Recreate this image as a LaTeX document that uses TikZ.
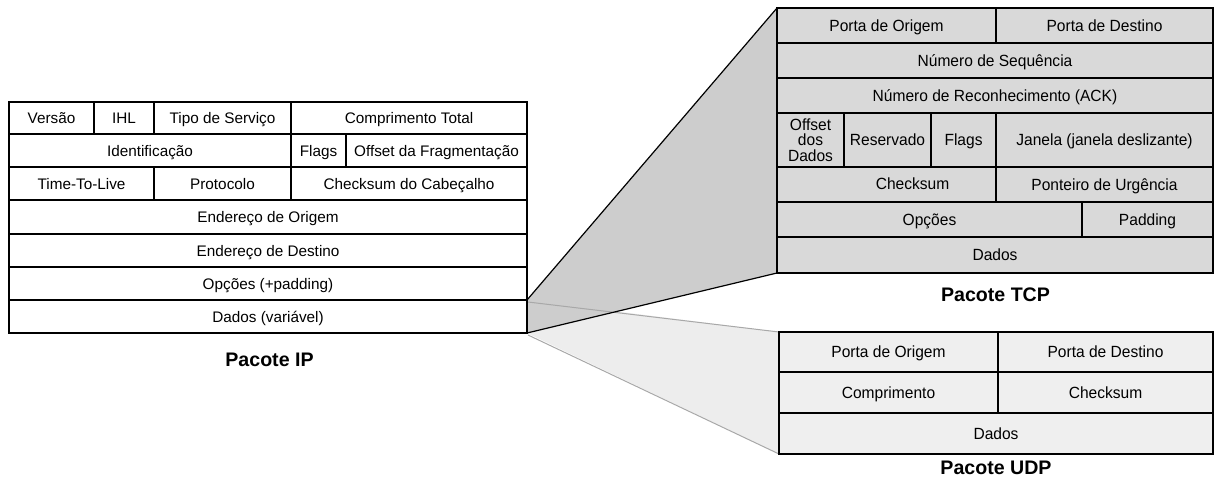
\documentclass[tikz,border=0pt]{standalone}
\usepackage{fontspec}
\setmainfont{Liberation Sans}
\newfontfamily\hdrfont[FakeStretch=0.96]{Liberation Sans}
\usetikzlibrary{backgrounds,calc}

\definecolor{tcpcell}{HTML}{D9D9D9}
\definecolor{udpcell}{HTML}{EFEFEF}
\definecolor{tcpwedge}{HTML}{CDCDCD}
\definecolor{udpwedge}{HTML}{EDEDED}
\definecolor{udpedge}{HTML}{A8A8A8}

\tikzset{
  cellbase/.style={draw=black, line width=2.7pt, inner sep=0pt, outer sep=0pt,
    anchor=north west, align=center},
  ipcell/.style={cellbase, fill=white,
    font=\fontsize{15.3}{18}\selectfont, text height=11pt, text depth=0pt},
  tcpbox/.style={cellbase, fill=tcpcell,
    font=\hdrfont\fontsize{16.2}{15.5}\selectfont, text height=11.6pt, text depth=0pt},
  udpbox/.style={cellbase, fill=udpcell,
    font=\hdrfont\fontsize{16.2}{15.5}\selectfont, text height=11.6pt, text depth=0pt},
  caption/.style={font=\bfseries\fontsize{19.6}{22}\selectfont, inner sep=0pt},
  tcpline/.style={draw=black, line width=1.2pt},
  udpline/.style={draw=udpedge, line width=1pt},
}

\begin{document}
\begin{tikzpicture}[x=1pt, y=-1pt]
\useasboundingbox (0,0) rectangle (1214,477);

% ---- IP header ----
\node[ipcell, minimum width=85pt,  minimum height=32pt] (ipVer)   at (9,102)   {Versão};
\node[ipcell, minimum width=60pt,  minimum height=32pt] (ipIHL)   at (94,102)  {IHL};
\node[ipcell, minimum width=137pt, minimum height=32pt] (ipTos)   at (154,102) {Tipo de Serviço};
\node[ipcell, minimum width=236pt, minimum height=32pt] (ipLen)   at (291,102) {Comprimento Total};

\node[ipcell, minimum width=282pt, minimum height=33pt] (ipId)    at (9,134)   {Identificação};
\node[ipcell, minimum width=55pt,  minimum height=33pt] (ipFlags) at (291,134) {Flags};
\node[ipcell, minimum width=181pt, minimum height=33pt] (ipFrag)  at (346,134) {Offset da Fragmentação};

\node[ipcell, minimum width=145pt, minimum height=33pt] (ipTTL)   at (9,167)   {Time-To-Live};
\node[ipcell, minimum width=137pt, minimum height=33pt] (ipProto) at (154,167) {Protocolo};
\node[ipcell, minimum width=236pt, minimum height=33pt] (ipCsum)  at (291,167) {Checksum do Cabeçalho};

\node[ipcell, minimum width=518pt, minimum height=34pt] (ipSrc)   at (9,200)   {Endereço de Origem};
\node[ipcell, minimum width=518pt, minimum height=33pt] (ipDst)   at (9,234)   {Endereço de Destino};
\node[ipcell, minimum width=518pt, minimum height=33pt] (ipOpt)   at (9,267)   {Opções (+padding)};
\node[ipcell, minimum width=518pt, minimum height=33pt] (ipData)  at (9,300)   {Dados (variável)};

\node[caption] (ipTitle) at (269.5,360) {Pacote IP};

% ---- TCP header ----
\node[tcpbox, minimum width=219pt, minimum height=35pt] (tcpSrc)  at (777,8)   {Porta de Origem};
\node[tcpbox, minimum width=217pt, minimum height=35pt] (tcpDst)  at (996,8)   {Porta de Destino};
\node[tcpbox, minimum width=436pt, minimum height=35pt] (tcpSeq)  at (777,43)  {Número de Sequência};
\node[tcpbox, minimum width=436pt, minimum height=35pt] (tcpAck)  at (777,78)  {Número de Reconhecimento (ACK)};

\node[tcpbox, minimum width=67pt,  minimum height=54pt, text height=, text depth=] (tcpOff) at (777,113)
  {Offset\\dos\\Dados};
\node[tcpbox, minimum width=87pt,  minimum height=54pt] (tcpRes)  at (844,113)  {Reservado};
\node[tcpbox, minimum width=65pt,  minimum height=54pt] (tcpFlg)  at (931,113)  {Flags};
\node[tcpbox, minimum width=217pt, minimum height=54pt] (tcpWin)  at (996,113)  {Janela (janela deslizante)};

\node[tcpbox, minimum width=219pt, minimum height=35pt,
      label={[font=\hdrfont\fontsize{16.2}{15.5}\selectfont, xshift=26pt, yshift=0.8pt]center:Checksum}]
      (tcpCsum) at (777,167) {};
\node[tcpbox, minimum width=217pt, minimum height=35pt] (tcpUrg)  at (996,167) {Ponteiro de Urgência};
\node[tcpbox, minimum width=305pt, minimum height=35pt] (tcpOpt)  at (777,202) {Opções};
\node[tcpbox, minimum width=131pt, minimum height=35pt] (tcpPad)  at (1082,202) {Padding};
\node[tcpbox, minimum width=436pt, minimum height=36pt] (tcpData) at (777,237) {Dados};

\node[caption] (tcpTitle) at (995.5,295) {Pacote TCP};

% ---- UDP header ----
\node[udpbox, minimum width=219pt, minimum height=40pt] (udpSrc)  at (779,332) {Porta de Origem};
\node[udpbox, minimum width=215pt, minimum height=40pt] (udpDst)  at (998,332) {Porta de Destino};
\node[udpbox, minimum width=219pt, minimum height=41pt] (udpLen)  at (779,372) {Comprimento};
\node[udpbox, minimum width=215pt, minimum height=41pt] (udpCsum) at (998,372) {Checksum};
\node[udpbox, minimum width=434pt, minimum height=41pt] (udpData) at (779,413) {Dados};

\node[caption] (udpTitle) at (996,468) {Pacote UDP};

% ---- zoom wedges from the IP data field to the transport headers ----
\begin{pgfonlayer}{background}
  \fill[udpwedge] (ipData.north east) -- (udpSrc.north west) -- (udpData.south west)
                  -- (ipData.south east) -- cycle;
  \fill[tcpwedge] (ipData.north east) -- (tcpSrc.north west) -- (tcpData.south west)
                  -- (ipData.south east) -- cycle;
  \draw[udpline] ($(ipData.north east)+(1,2)$) -- (udpSrc.north west);
  \draw[udpline] ($(ipData.south east)+(1,2)$) -- (udpData.south west);
  \draw[tcpline] (ipData.north east) -- (tcpSrc.north west);
  \draw[tcpline] (ipData.south east) -- (tcpData.south west);
\end{pgfonlayer}
\end{tikzpicture}
\end{document}
